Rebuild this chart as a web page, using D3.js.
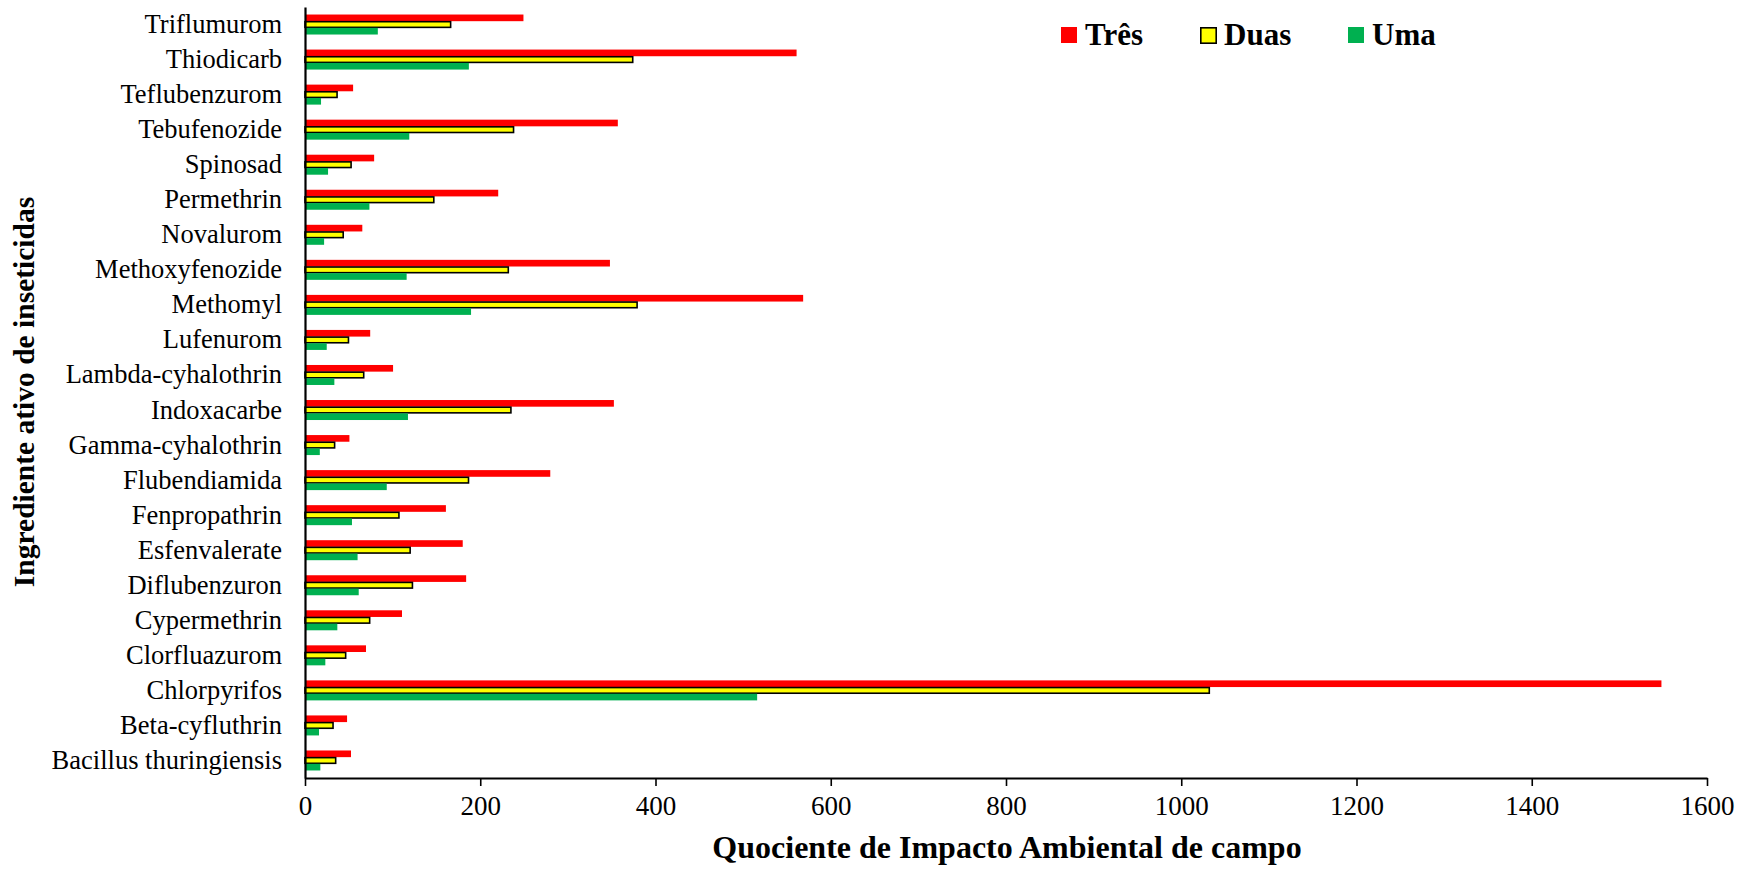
<!DOCTYPE html>
<html>
<head>
<meta charset="utf-8">
<script src="https://cdn.jsdelivr.net/npm/d3@7"></script>
<style>
  html, body { margin: 0; padding: 0; background: #fff; }
  svg { display: block; font-family: "Liberation Serif", "Times New Roman", serif; }
</style>
</head>
<body>
<svg id="chart" width="1758" height="869"></svg>
<script>
// Active ingredients, listed top to bottom as drawn
const categories = [
  "Triflumurom", "Thiodicarb", "Teflubenzurom", "Tebufenozide", "Spinosad",
  "Permethrin", "Novalurom", "Methoxyfenozide", "Methomyl", "Lufenurom",
  "Lambda-cyhalothrin", "Indoxacarbe", "Gamma-cyhalothrin", "Flubendiamida",
  "Fenpropathrin", "Esfenvalerate", "Diflubenzuron", "Cypermethrin",
  "Clorfluazurom", "Chlorpyrifos", "Beta-cyfluthrin", "Bacillus thuringiensis"
];

// Field EIQ for three, two and one application(s)
const tres = [249.3, 561, 54.9, 357, 78.9, 220.5, 65.4, 348, 568.5, 74.4,
              100.5, 352.5, 50.7, 279.9, 160.8, 180, 183.9, 110.7, 69.6, 1548, 48, 52.5];
const duas = [166.2, 374, 36.6, 238, 52.6, 147, 43.6, 232, 379, 49.6,
              67, 235, 33.8, 186.6, 107.2, 120, 122.6, 73.8, 46.4, 1032, 32, 35];
const uma  = [83.1, 187, 18.3, 119, 26.3, 73.5, 21.8, 116, 189.5, 24.8,
              33.5, 117.5, 16.9, 93.3, 53.6, 60, 61.3, 36.9, 23.2, 516, 16, 17.5];

const seriesNames = ["Três", "Duas", "Uma"];
const seriesColors = ["#FF0000", "#FFFF00", "#00B050"];
const xTicks = [0, 200, 400, 600, 800, 1000, 1200, 1400, 1600];

const series = [tres, duas, uma];

const svg = d3.select("#chart");

const x = d3.scaleLinear().domain([0, 1600]).range([305, 1707]);
const y = d3.scaleBand().domain(categories).range([7, 778]).padding(0);
const bw = y.bandwidth();
const groupH = 20;
const ySub = d3.scaleBand().domain(seriesNames)
  .range([(bw - groupH) / 2, (bw + groupH) / 2]).padding(0);

// Bars
const rows = categories.map((c, i) => ({
  cat: c,
  vals: seriesNames.map((s, k) => ({ s, k, v: series[k][i] }))
}));

const g = svg.append("g");
const grp = g.selectAll("g.cat").data(rows).join("g")
  .attr("class", "cat")
  .attr("transform", d => `translate(0,${y(d.cat)})`);

grp.selectAll("rect").data(d => d.vals).join("rect")
  .attr("x", x(0))
  .attr("y", d => ySub(d.s) + (d.s === "Duas" ? 0.5 : 0))
  .attr("width", d => x(d.v) - x(0))
  .attr("height", d => ySub.bandwidth() - (d.s === "Duas" ? 1 : 0))
  .attr("fill", d => seriesColors[d.k])
  .attr("stroke", d => d.s === "Duas" ? "#000" : "none")
  .attr("stroke-width", 1.6);

// X axis
const xAxis = svg.append("g")
  .attr("transform", "translate(0,778)")
  .call(d3.axisBottom(x).tickValues(xTicks).tickFormat(d3.format("d"))
        .tickSize(8).tickSizeOuter(0).tickPadding(10));
xAxis.select(".domain").attr("stroke", "#000").attr("stroke-width", 2.2);
xAxis.selectAll(".tick line").attr("stroke", "#000").attr("stroke-width", 1.6);
xAxis.selectAll(".tick text")
  .attr("font-family", "Liberation Serif, serif")
  .attr("font-size", 27).attr("fill", "#000");

// Y axis
const yAxis = svg.append("g")
  .attr("transform", "translate(305,0)")
  .call(d3.axisLeft(y).tickSize(0).tickSizeOuter(0).tickPadding(23));
yAxis.select(".domain").attr("stroke", "#000").attr("stroke-width", 2.2);
yAxis.selectAll(".tick text")
  .attr("font-family", "Liberation Serif, serif")
  .attr("font-size", 26.5).attr("fill", "#000");

// Axis titles
svg.append("text")
  .attr("x", 1007).attr("y", 858)
  .attr("text-anchor", "middle")
  .attr("font-size", 32).attr("font-weight", "bold")
  .text("Quociente de Impacto Ambiental de campo");

svg.append("text")
  .attr("transform", "translate(34,392) rotate(-90)")
  .attr("text-anchor", "middle")
  .attr("font-size", 29.5).attr("font-weight", "bold")
  .text("Ingrediente ativo de inseticidas");

// Legend
const legendX = [1061, 1200, 1348];
const leg = svg.append("g").selectAll("g").data(seriesNames).join("g")
  .attr("transform", (d, i) => `translate(${legendX[i]},27)`);
leg.append("rect")
  .attr("x", (d, i) => i === 1 ? 0.8 : 0)
  .attr("y", (d, i) => i === 1 ? 0.8 : 0)
  .attr("width", (d, i) => i === 1 ? 15.4 : 16)
  .attr("height", (d, i) => i === 1 ? 15.4 : 16)
  .attr("fill", (d, i) => seriesColors[i])
  .attr("stroke", (d, i) => i === 1 ? "#000" : "none")
  .attr("stroke-width", 1.6);
leg.append("text")
  .attr("x", 24).attr("y", 18)
  .attr("font-size", 31).attr("font-weight", "bold")
  .text(d => d);
</script>
</body>
</html>
